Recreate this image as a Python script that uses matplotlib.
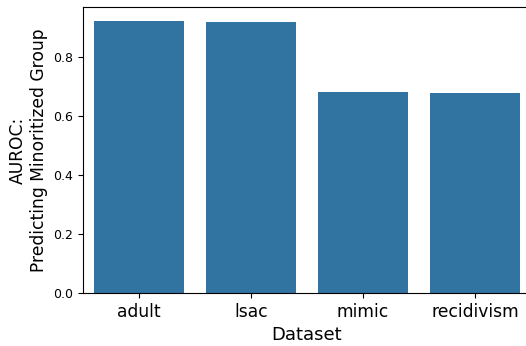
import numpy as np
import pandas as pd
import seaborn as sns
from matplotlib import pyplot as plt

datasets = ['adult', 'lsac', 'mimic', 'recidivism']
auroc = [0.925, 0.921, 0.683, 0.680]

df = pd.DataFrame({'Dataset': datasets, 'AUROC': auroc})

fig = plt.figure(figsize=(5.26, 3.46), dpi=100)
ax = fig.add_axes([83/526, 53/346, 448/526, 286/346])
sns.barplot(data=df, x='Dataset', y='AUROC', color='#3274a1', saturation=1, ax=ax)
ax.set_xlim(-0.5, len(datasets) - 0.5)
# right edge is cut off in the original
ax.spines['right'].set_visible(False)

ax.set_xlabel('Dataset', fontsize=13)
ax.set_ylabel('AUROC:\nPredicting Minoritized Group', fontsize=12.3)
ax.tick_params(axis='x', labelsize=12.3)
ax.tick_params(axis='y', labelsize=9)
ax.set_yticks([0.0, 0.2, 0.4, 0.6, 0.8])

fig.savefig('out.png', dpi=100)
